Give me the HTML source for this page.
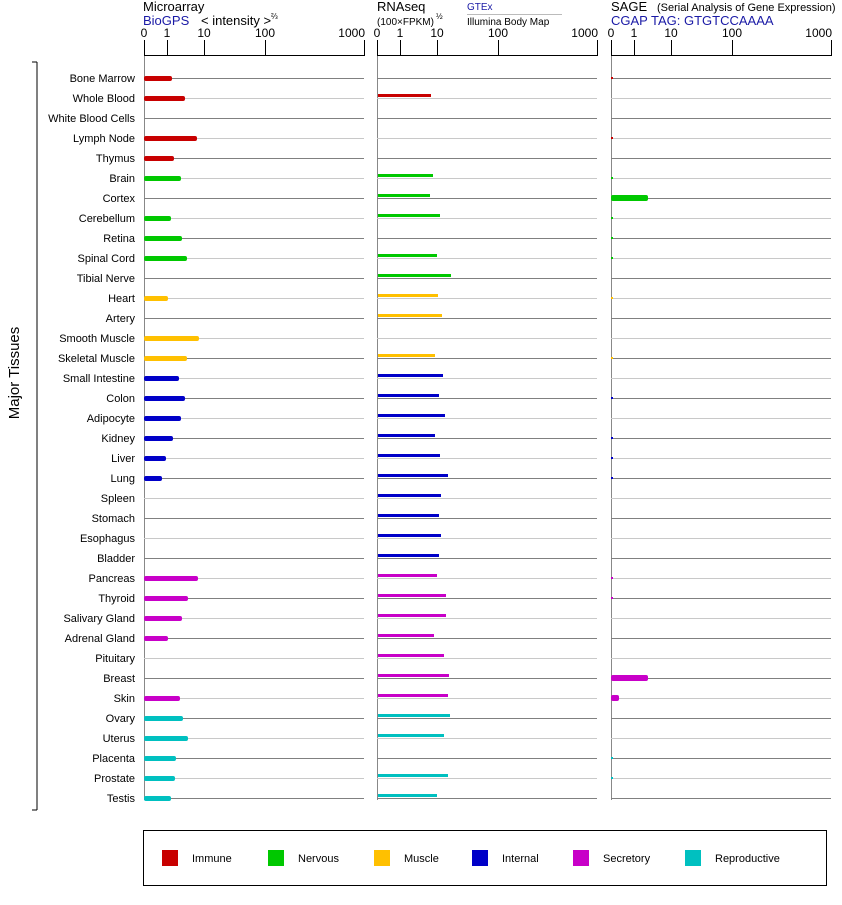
<!DOCTYPE html>
<html><head><style>
body{margin:0;background:#fff;}
svg text{font-family:"Liberation Sans",Arial,sans-serif;}
</style></head><body>
<svg width="842" height="900" xmlns="http://www.w3.org/2000/svg">
<g id="hdr" font-size="12">
<text x="143" y="11" font-size="13">Microarray</text>
<text x="143" y="25" font-size="13" fill="#1a1aa6">BioGPS</text>
<text x="201" y="25" font-size="13">&lt; intensity &gt;</text>
<text x="271" y="19" font-size="8">⅔</text>
<text x="377" y="11" font-size="13">RNAseq</text>
<text x="377" y="25" font-size="10">(100×FPKM)</text>
<text x="436" y="19" font-size="8">½</text>
<text x="467" y="10" font-size="10" fill="#1a1aa6">GTEx</text>
<line x1="467" y1="14.5" x2="562" y2="14.5" stroke="#bbb"/>
<text x="467" y="25" font-size="10">Illumina Body Map</text>
<text x="611" y="11" font-size="13">SAGE</text>
<text x="657" y="11" font-size="11">(Serial Analysis of Gene Expression)</text>
<text x="611" y="25" font-size="13" fill="#1a1aa6">CGAP TAG: GTGTCCAAAA</text>
</g>
<g id="axes"></g>
<g id="rows"></g>
<g font-size="11">
<line x1="37" y1="62" x2="37" y2="810" stroke="#000"/>
<line x1="32" y1="62" x2="37" y2="62" stroke="#000"/>
<line x1="32" y1="810" x2="37" y2="810" stroke="#000"/>
<text transform="translate(19,373) rotate(-90)" text-anchor="middle" font-size="15">Major Tissues</text>
</g>
<rect x="143.5" y="830.5" width="683" height="55" fill="none" stroke="#000"/>
<g font-size="11">
<rect x="162" y="850" width="16" height="16" fill="#c80000"/><text x="192" y="862">Immune</text>
<rect x="268" y="850" width="16" height="16" fill="#00c800"/><text x="298" y="862">Nervous</text>
<rect x="374" y="850" width="16" height="16" fill="#ffc000"/><text x="404" y="862">Muscle</text>
<rect x="472" y="850" width="16" height="16" fill="#0000c8"/><text x="502" y="862">Internal</text>
<rect x="573" y="850" width="16" height="16" fill="#c800c8"/><text x="603" y="862">Secretory</text>
<rect x="685" y="850" width="16" height="16" fill="#00c0c0"/><text x="715" y="862">Reproductive</text>
</g>
</svg>
<script>
const NS="http://www.w3.org/2000/svg";
function el(p,t,a,txt){const e=document.createElementNS(NS,t);for(const k in a)e.setAttribute(k,a[k]);if(txt!=null)e.textContent=txt;document.getElementById(p).appendChild(e);return e;}
const panels=[144,377,611];
const offs=[[0,"0"],[23,"1"],[60,"10"],[121,"100"],[220,"1000"]];
panels.forEach(x0=>{
 el("axes","line",{x1:x0,y1:55.5,x2:x0+220,y2:55.5,stroke:"#000"});
 offs.forEach(([o,l])=>{el("axes","line",{x1:x0+o+.5,y1:40,x2:x0+o+.5,y2:56,stroke:"#000"});
 el("axes","text",{x:o==220?x0+o+1:x0+o,y:37,"font-size":12,"text-anchor":o==220?"end":"middle"},l);});
 el("axes","line",{x1:x0+.5,y1:56,x2:x0+.5,y2:800,stroke:"#888"});
});
const C={I:"#c80000",N:"#00c800",M:"#ffc000",T:"#0000c8",S:"#c800c8",R:"#00c0c0"};
const rows=[["Bone Marrow","I",172,0,1],["Whole Blood","I",185,431,0],["White Blood Cells","I",0,0,0],["Lymph Node","I",197,0,1],["Thymus","I",174,0,0],
["Brain","N",181,433,1],["Cortex","N",0,430,648],["Cerebellum","N",171,440,1],["Retina","N",182,0,1],["Spinal Cord","N",187,437,1],["Tibial Nerve","N",0,451,0],
["Heart","M",168,438,1],["Artery","M",0,442,0],["Smooth Muscle","M",199,0,0],["Skeletal Muscle","M",187,435,1],
["Small Intestine","T",179,443,0],["Colon","T",185,439,1],["Adipocyte","T",181,445,0],["Kidney","T",173,435,1],["Liver","T",166,440,1],["Lung","T",162,448,1],["Spleen","T",0,441,0],["Stomach","T",0,439,0],["Esophagus","T",0,441,0],["Bladder","T",0,439,0],
["Pancreas","S",198,437,1],["Thyroid","S",188,446,1],["Salivary Gland","S",182,446,0],["Adrenal Gland","S",168,434,0],["Pituitary","S",0,444,0],["Breast","S",0,449,648],["Skin","S",180,448,619],
["Ovary","R",183,450,0],["Uterus","R",188,444,0],["Placenta","R",176,0,1],["Prostate","R",175,448,1],["Testis","R",171,437,0]];
rows.forEach((r,i)=>{const y=78+20*i;const col=i%2==0?"#808080":"#c8c8c8";
 panels.forEach(x0=>el("rows","line",{x1:x0,y1:y+.5,x2:x0+220,y2:y+.5,stroke:col}));
 el("rows","text",{x:135,y:y+4,"font-size":11,"text-anchor":"end"},r[0]);
 const c=C[r[1]];
 if(r[2])el("rows","rect",{x:144,y:y-2,width:r[2]-144,height:5,rx:2,fill:c});
 if(r[3])el("rows","rect",{x:378,y:y-4,width:r[3]-378,height:3,fill:c});
 if(r[4]==1)el("rows","rect",{x:611,y:y-1,width:2,height:2,fill:c});
 else if(r[4])el("rows","rect",{x:611,y:y-3,width:r[4]-611,height:6,rx:2,fill:c});
});
</script>
</body></html>
